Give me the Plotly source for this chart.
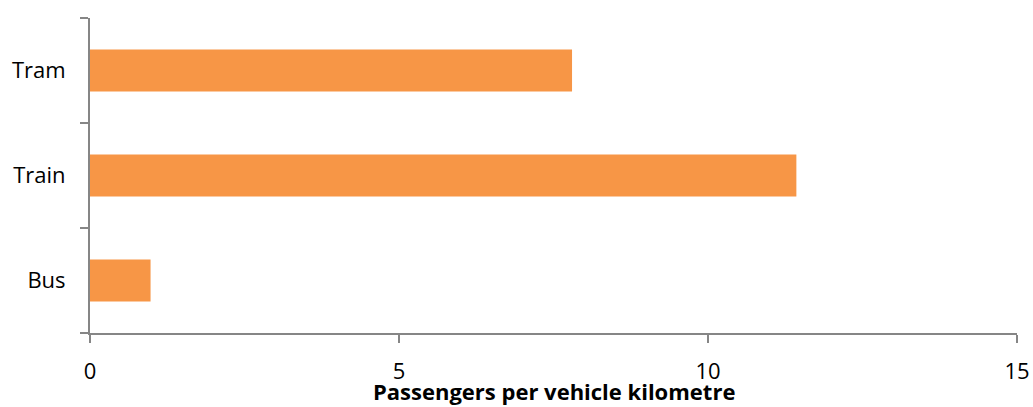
import plotly.graph_objects as go

categories = ["Bus", "Train", "Tram"]
values = [0.98, 11.43, 7.80]
x_ticks = [0, 5, 10, 15]
x_title = "Passengers per vehicle kilometre"

axis_color = "#868686"
font_family = "'Open Sans', sans-serif"

fig = go.Figure(go.Bar(
    x=values, y=categories, orientation="h",
    marker=dict(color="#F79646", line=dict(width=0)),
))

fig.update_layout(
    width=1033, height=407,
    margin=dict(l=90, r=16, t=18, b=74),
    paper_bgcolor="white", plot_bgcolor="white",
    bargap=0.6, showlegend=False,
    font=dict(family=font_family, color="#000000", size=22),
    annotations=[dict(
        text=f"<b>{x_title}</b>", xref="paper", yref="paper",
        x=0.5, y=0, xanchor="center", yanchor="bottom", yshift=-74,
        showarrow=False, borderpad=0,
        font=dict(size=22, family=font_family, color="#000000"),
    )],
)
fig.update_xaxes(
    range=[0, 15], tickvals=x_ticks, showgrid=False, zeroline=False,
    showline=True, linecolor=axis_color, linewidth=2,
    ticks="outside", ticklen=8, tickcolor=axis_color, tickwidth=2,
    ticklabelstandoff=10, automargin=False,
)
fig.update_yaxes(
    categoryorder="array", categoryarray=categories,
    range=[-0.5, 2.5], showgrid=False, zeroline=False,
    showline=True, linecolor=axis_color, linewidth=2,
    ticks="outside", ticklen=8, tickcolor=axis_color, tickwidth=2,
    tickson="boundaries", ticklabelstandoff=18, automargin=False,
)

fig.write_html("out.html")
